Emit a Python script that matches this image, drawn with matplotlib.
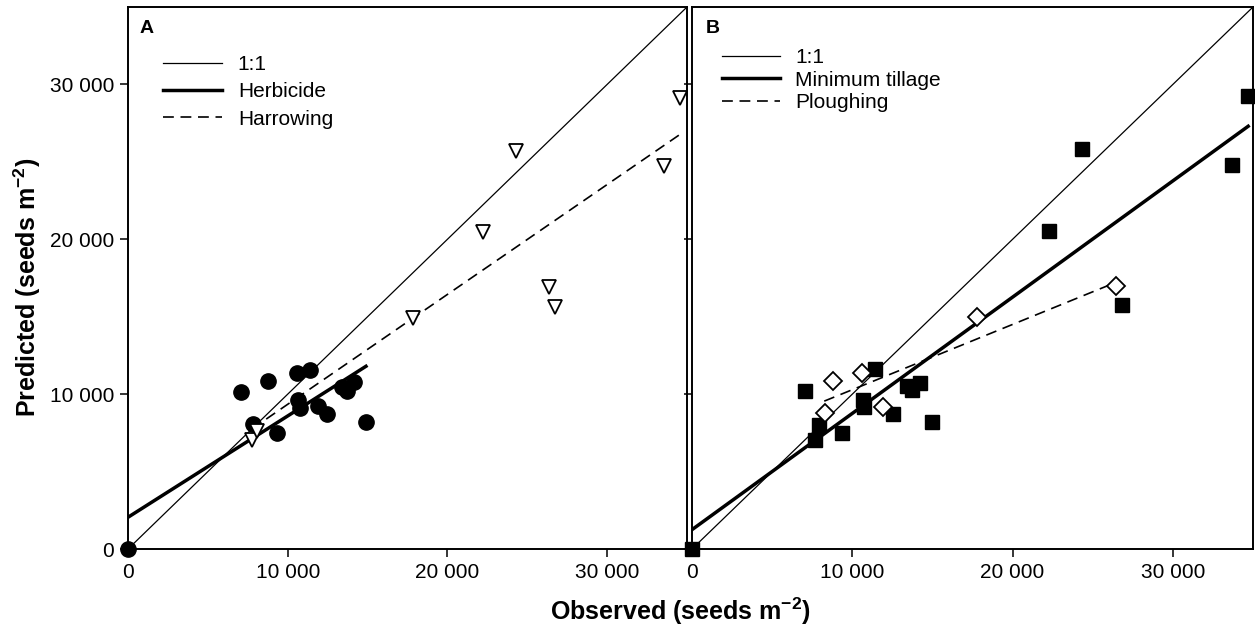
import numpy as np
import matplotlib
matplotlib.use("Agg")
import matplotlib.pyplot as plt

plt.rcParams['font.family'] = ['Liberation Sans', 'DejaVu Sans']
plt.rcParams['mathtext.fontset'] = 'custom'
plt.rcParams['mathtext.rm'] = 'Liberation Sans'
plt.rcParams['mathtext.bf'] = 'Liberation Sans:bold'

# ---- data (seeds m-2) ----
# panel A
herb_obs = [0, 7075, 8785, 7845, 9310, 10600, 11395, 10665, 10770, 11915, 12480, 13380, 13690, 14170, 14900]
herb_pred = [0, 10160, 10850, 8070, 7470, 11345, 11560, 9620, 9085, 9235, 8715, 10480, 10220, 10765, 8220]
harrow_obs = [7740, 8050, 17850, 22220, 24270, 26370, 26730, 33580, 34560]
harrow_pred = [7040, 7650, 14910, 20460, 25720, 16890, 15640, 24730, 29150]

# panel B
mintill_obs = [0, 7050, 7940, 7670, 9340, 10650, 10750, 11420, 12520, 13390, 13740, 14220, 14950,
               22290, 24350, 26830, 33710, 34670]
mintill_pred = [0, 10200, 8010, 7040, 7470, 9620, 9150, 11600, 8720, 10530, 10270, 10740, 8220,
                20530, 25800, 15740, 24830, 29250]
plough_obs = [8300, 8780, 10590, 11900, 17760, 26430]
plough_pred = [8760, 10840, 11380, 9180, 14990, 16985]

# fitted lines (end points)
one_x = [0, 35000]
one_y = [0, 35000]
herb_line_x = [0, 14900]
herb_line_y = [2050, 11800]
harrow_line_x = [7750, 34600]
harrow_line_y = [7750, 26800]
mintill_line_x = [0, 34700]
mintill_line_y = [1250, 27300]
plough_line_x = [8250, 26400]
plough_line_y = [9550, 17200]

ticks = [0, 10000, 20000, 30000]
tick_labels = ['0', '10 000', '20 000', '30 000']

fig = plt.figure(figsize=(12.55, 6.32), dpi=100)
axA = fig.add_axes([0.1020, 0.1313, 0.4454, 0.8576])
axB = fig.add_axes([0.5514, 0.1313, 0.4470, 0.8576])

dash = (0, (6.5, 4))

# panel A
axA.plot(one_x, one_y, color='black', lw=0.9, label='1:1')
axA.plot(herb_line_x, herb_line_y, color='black', lw=2.5, label='Herbicide')
axA.plot(harrow_line_x, harrow_line_y, color='black', lw=1.2, ls=dash, label='Harrowing')
axA.plot(herb_obs, herb_pred, 'o', color='black', ms=11, clip_on=False, zorder=5)
axA.plot(harrow_obs, harrow_pred, 'v', mfc='white', mec='black', mew=1.3, ms=10,
         clip_on=False, zorder=6)

# panel B
axB.plot(one_x, one_y, color='black', lw=0.9, label='1:1')
axB.plot(mintill_line_x, mintill_line_y, color='black', lw=2.5, label='Minimum tillage')
axB.plot(plough_line_x, plough_line_y, color='black', lw=1.2, ls=dash, label='Ploughing')
axB.plot(mintill_obs, mintill_pred, 's', color='black', ms=10, clip_on=False, zorder=5)
axB.plot(plough_obs, plough_pred, 'D', mfc='white', mec='black', mew=1.3, ms=9,
         clip_on=False, zorder=6)

for ax in (axA, axB):
    ax.set_xlim(0, 35000)
    ax.set_ylim(0, 35000)
    ax.set_xticks(ticks)
    ax.set_xticklabels(tick_labels)
    ax.set_yticks(ticks)
    ax.tick_params(direction='out', length=6, width=1.1, labelsize=15, pad=4)
    for s in ax.spines.values():
        s.set_linewidth(1.4)

axA.set_yticklabels(tick_labels)
axB.set_yticklabels([])

axA.text(0.02, 0.96, 'A', transform=axA.transAxes, fontsize=14, fontweight='bold', va='center')
axB.text(0.025, 0.96, 'B', transform=axB.transAxes, fontsize=14, fontweight='bold', va='center')

axA.legend(loc='upper left', bbox_to_anchor=(0.062, 0.911), frameon=False, fontsize=15,
           borderpad=0, borderaxespad=0, handlelength=2.84, handletextpad=0.77, labelspacing=0.39)
axB.legend(loc='upper left', bbox_to_anchor=(0.053, 0.924), frameon=False, fontsize=15,
           borderpad=0, borderaxespad=0, handlelength=2.8, handletextpad=0.72, labelspacing=0.17)

fig.text(0.022, 0.545, r'Predicted (seeds m$^{\mathbf{-2}}$)', rotation=90, fontsize=18,
         fontweight='bold', ha='center', va='center')
fig.text(0.542, 0.033, r'Observed (seeds m$^{\mathbf{-2}}$)', fontsize=18,
         fontweight='bold', ha='center', va='center')

fig.savefig('out.png', dpi=100)
